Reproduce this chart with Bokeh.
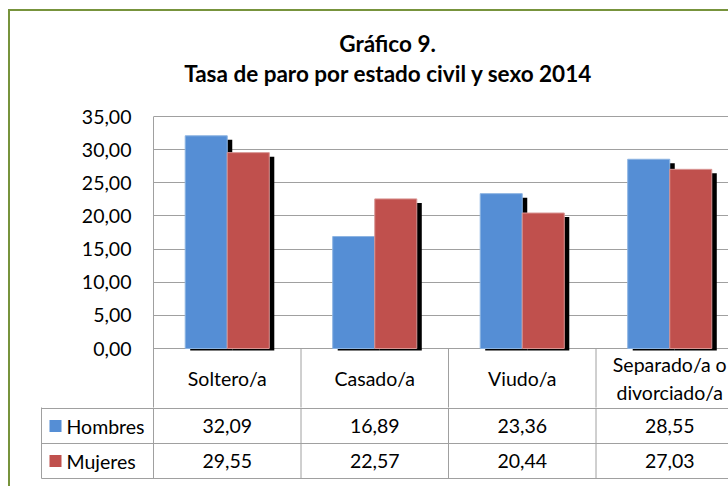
from bokeh.plotting import figure
from bokeh.models import Range1d, FixedTicker
from bokeh.layouts import column
from bokeh.embed import file_html
from bokeh.resources import INLINE
from bokeh.core.properties import value

# ---------------- data ----------------
categories = ["Soltero/a", "Casado/a", "Viudo/a", "Separado/a o\ndivorciado/a"]
hombres = [32.09, 16.89, 23.36, 28.55]
mujeres = [29.55, 22.57, 20.44, 27.03]
series_names = ["Hombres", "Mujeres"]
y_ticks = [0, 5, 10, 15, 20, 25, 30, 35]
y_tick_labels = ["0,00", "5,00", "10,00", "15,00", "20,00", "25,00", "30,00", "35,00"]
title_lines = ["Gráfico 9.", "Tasa de paro por estado civil y sexo 2014"]

# ---------------- style / layout constants ----------------
BLUE = "#558ED5"
BLUE_EDGE = "#8DB4E2"
RED = "#C0504D"
RED_EDGE = "#D99694"
GRID = "#A0A0A0"
GREEN = "#77933C"
FONT = "Lato"
FS = "19.5px"

ORIGIN_X, ORIGIN_Y = 10, 11          # page position of the content (after border)
FIG_W = 728 - ORIGIN_X
FRAME_L, PLOT_T, ZERO_Y, HEAD_B = 153, 116, 348, 407
CAT_PX = 147.5
frame_w = 728 - FRAME_L
x_end = frame_w / CAT_PX
bar_w = 0.285
PX_PER_UNIT = (ZERO_Y - PLOT_T) / 35
sx = 5 / CAT_PX
sy = 4 / PX_PER_UNIT
shadow_bottom = -2 / PX_PER_UNIT
y_lo = -(HEAD_B - ZERO_Y) / PX_PER_UNIT
y_hi = 35 + (PLOT_T - ORIGIN_Y) / PX_PER_UNIT


def ypx(py):
    """page pixel row -> data value of the chart figure"""
    return (ZERO_Y - py) / PX_PER_UNIT


def xpx(px):
    """page pixel column -> category units"""
    return (px - FRAME_L) / CAT_PX


n = len(categories)
centers = [i + 0.5 for i in range(n)]
bx = [c - bar_w / 2 for c in centers]
rx = [c + bar_w / 2 for c in centers]

pA = figure(width=FIG_W, height=HEAD_B - ORIGIN_Y, x_range=Range1d(0, x_end), y_range=Range1d(y_lo, y_hi),
            output_backend="svg", toolbar_location=None, x_axis_location=None,
            min_border_left=FRAME_L - ORIGIN_X, min_border_right=0,
            min_border_top=0, min_border_bottom=0,
            outline_line_color=None, background_fill_color="white", border_fill_color="white")

# chart title (two centred lines)
pA.text(x=[xpx(387), xpx(388)], y=[ypx(43), ypx(73)], text=title_lines,
        text_align="center", text_baseline="middle", text_font=value(FONT),
        text_font_size="22.5px", text_font_style="bold", text_color="black")

yax = pA.yaxis[0]
yax.ticker = FixedTicker(ticks=y_ticks)
yax.major_label_overrides = {t: l for t, l in zip(y_ticks, y_tick_labels)}
yax.major_tick_line_color = None
yax.minor_tick_line_color = None
yax.axis_line_color = GRID
yax.bounds = (y_lo, 35)
yax.major_label_standoff = 16
yax.major_label_text_font = FONT
yax.major_label_text_font_size = FS
yax.major_label_text_color = "black"

pA.xgrid.visible = False
pA.ygrid.ticker = FixedTicker(ticks=y_ticks)
pA.ygrid.grid_line_color = GRID

# bar shadows, then bars
pA.quad(left=[x - bar_w / 2 + sx for x in bx], right=[x + bar_w / 2 + sx for x in bx],
        top=[v - sy for v in hombres], bottom=shadow_bottom, fill_color="black", line_color=None)
pA.quad(left=[x - bar_w / 2 + sx for x in rx], right=[x + bar_w / 2 + sx for x in rx],
        top=[v - sy for v in mujeres], bottom=shadow_bottom, fill_color="black", line_color=None)
pA.vbar(x=bx, top=hombres, bottom=0, width=bar_w, fill_color=BLUE, line_color=BLUE_EDGE, line_width=1)
pA.vbar(x=rx, top=mujeres, bottom=0, width=bar_w, fill_color=RED, line_color=RED_EDGE, line_width=1)

# header row of the data table (category names)
vx = list(range(1, n + 1))
pA.segment(x0=vx, x1=vx, y0=[0] * n, y1=[y_lo] * n, line_color=GRID, line_width=1)
pA.text(x=centers, y=[ypx(378)] * n, text=categories, text_align="center", text_baseline="middle",
        text_font=value(FONT), text_font_size=FS, text_color="black", text_line_height=1.22)

# ---------------- data rows with legend keys ----------------
ROW = 35.0
pB = figure(width=FIG_W, height=486 - HEAD_B,
            x_range=Range1d(xpx(ORIGIN_X), x_end),
            y_range=Range1d(-(486 - HEAD_B - 1) / ROW, 1 / ROW),
            output_backend="svg", toolbar_location=None, x_axis_location=None, y_axis_location=None,
            min_border_left=0, min_border_right=0, min_border_top=0, min_border_bottom=0,
            outline_line_color=None, background_fill_color="white", border_fill_color="white")
pB.xgrid.visible = False
pB.ygrid.visible = False
for p in (pA, pB):
    if "frame_align" in p.properties():
        p.frame_align = False

x_tab = xpx(41)
hy = [0, -1, -2]
pB.segment(x0=[x_tab] * 3, x1=[x_end + 1] * 3, y0=hy, y1=hy, line_color=GRID, line_width=1)
vxb = [x_tab] + list(range(n + 1))
pB.segment(x0=vxb, x1=vxb, y0=[1] * len(vxb), y1=[-2] * len(vxb), line_color=GRID, line_width=1)

row_y = [-0.5, -1.5]
for vals, yy in zip([hombres, mujeres], row_y):
    pB.text(x=centers, y=[yy] * n, text=[f"{v:.2f}".replace(".", ",") for v in vals],
            text_align="center", text_baseline="middle", text_font=value(FONT),
            text_font_size=FS, text_color="black")
pB.scatter(x=[xpx(55)] * 2, y=row_y, marker="square", size=12,
           fill_color=[BLUE, RED], line_color=None)
pB.text(x=[xpx(66)] * 2, y=row_y, text=series_names, text_align="left",
        text_baseline="middle", text_font=value(FONT), text_font_size=FS, text_color="black")

layout = column(pA, pB, spacing=0,
                styles={"margin-left": "8px", "margin-top": "9px",
                        "border-left": f"2px solid {GREEN}", "border-top": f"2px solid {GREEN}"})

open("out.html", "w").write(file_html(layout, INLINE))
